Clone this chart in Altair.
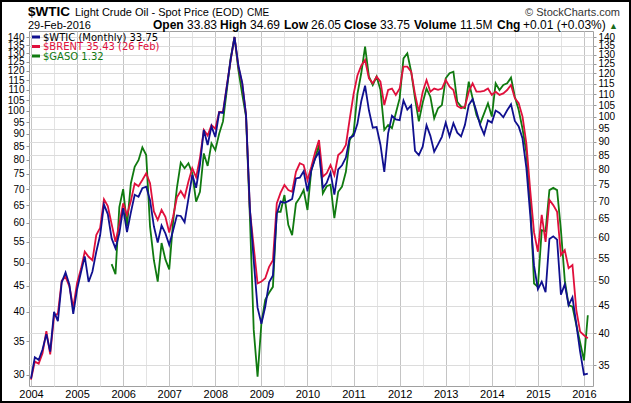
import altair as alt
import pandas as pd

# ---------------- data (monthly, Jan 2004 .. Feb 2016) ----------------
wtic = [
    33.05, 36.16, 35.76, 37.38, 39.88, 37.05, 43.80, 42.12, 49.64, 51.76, 49.13, 43.45,
    48.20, 51.75, 55.40, 49.72, 51.97, 56.50, 60.57, 68.94, 66.24, 59.76, 57.32, 61.04,
    67.92, 61.41, 66.63, 71.88, 71.29, 73.93, 74.40, 70.26, 62.91, 58.73, 63.13, 61.05,
    58.14, 61.79, 65.87, 65.71, 64.01, 70.68, 78.21, 74.04, 81.66, 94.53, 88.71, 95.98,
    91.75, 101.84, 101.58, 113.46, 127.35, 140.00, 124.08, 115.46, 100.64, 67.81, 54.43, 44.60,
    41.68, 44.76, 49.66, 51.12, 66.31, 69.89, 69.45, 69.96, 70.61, 77.00, 77.28, 79.36,
    72.89, 79.66, 83.76, 86.15, 73.97, 75.63, 78.95, 71.92, 79.97, 81.43, 84.11, 91.38,
    92.19, 96.97, 106.72, 113.93, 102.70, 95.42, 95.70, 88.81, 79.20, 93.19, 100.36, 98.83,
    98.48, 107.07, 103.02, 104.87, 86.53, 84.96, 88.06, 96.47, 92.19, 86.24, 88.91, 91.82,
    97.49, 92.05, 97.23, 93.46, 91.97, 96.56, 105.03, 107.65, 102.33, 96.38, 92.72, 98.42,
    97.49, 102.59, 101.58, 99.74, 102.71, 105.37, 98.17, 95.96, 91.16, 80.54, 66.15, 53.27,
    48.24, 49.76, 47.60, 59.63, 60.30, 59.47, 47.12, 49.20, 45.09, 46.59, 41.65, 37.04,
    33.62, 33.75,
]
brent = [
    32.9, 35.5, 35.2, 36.8, 40.4, 36.6, 43.0, 43.5, 50.0, 50.8, 48.8, 44.6,
    49.5, 52.5, 56.5, 55.3, 54.5, 60.6, 62.5, 70.5, 68.5, 63.5, 58.9, 63.5,
    69.3, 66.0, 70.0, 75.4, 74.5, 76.5, 78.7, 75.5, 67.0, 64.6, 67.4, 65.5,
    61.3, 65.5, 71.1, 73.0, 71.1, 76.0, 80.4, 77.4, 84.0, 94.5, 92.3, 96.5,
    95.0, 102.0, 102.0, 114.0, 127.0, 140.0, 123.5, 115.1, 100.7, 67.4, 57.7, 49.4,
    49.8, 50.5, 53.0, 54.5, 69.3, 72.5, 74.9, 73.3, 72.8, 79.2, 82.1, 81.5,
    76.5, 80.9, 86.0, 90.6, 77.6, 78.7, 81.5, 78.1, 85.0, 86.2, 88.7, 99.0,
    110.0, 119.0, 124.0, 127.0, 117.6, 115.1, 118.4, 115.9, 105.0, 111.9, 112.6, 109.6,
    112.6, 123.5, 123.5, 120.9, 110.0, 102.0, 111.0, 116.7, 111.1, 112.6, 112.0, 112.6,
    116.7, 113.5, 111.9, 104.6, 103.6, 104.3, 111.1, 115.1, 111.1, 111.1, 111.5, 112.6,
    109.6, 111.1, 109.6, 110.3, 111.9, 114.3, 108.1, 105.8, 100.0, 89.3, 73.3, 61.3,
    56.5, 66.0, 58.9, 70.3, 68.8, 66.9, 55.7, 56.9, 52.7, 53.4, 44.2, 40.3,
    39.7, 39.2,
]
gaso = [None] * 21 + [
    53.6, 51.4, 68.2,
    73.6, 63.0, 75.4, 80.9, 83.2, 87.8, 85.0, 62.8, 54.5, 49.8, 58.6, 54.7,
    52.4, 64.1, 74.0, 82.3, 80.4, 82.1, 78.7, 69.8, 72.8, 85.6, 81.2, 89.3,
    86.8, 93.0, 98.0, 112.0, 128.0, 140.0, 121.8, 110.0, 100.0, 65.5, 40.6, 33.3,
    41.8, 46.1, 47.5, 48.7, 66.9, 66.9, 71.8, 63.3, 60.6, 69.3, 71.0, 73.3,
    67.4, 79.8, 84.0, 88.7, 72.3, 74.5, 75.0, 65.1, 72.8, 74.4, 79.2, 90.6,
    93.2, 110.0, 120.1, 134.4, 118.4, 114.3, 118.4, 112.0, 94.5, 96.5, 95.2, 101.4,
    108.0, 127.9, 130.7, 120.9, 108.0, 98.0, 106.0, 112.6, 108.8, 99.3, 103.6, 105.0,
    117.6, 120.1, 120.9, 106.5, 104.3, 103.6, 115.9, 108.1, 100.7, 97.2, 101.4, 105.8,
    100.0, 115.1, 111.9, 114.3, 115.1, 117.9, 108.8, 102.8, 95.0, 86.0, 70.0, 49.4,
    48.7, 61.9, 61.6, 73.3, 74.0, 73.3, 61.9, 50.1, 45.1, 44.8, 41.5, 38.5,
    35.7, 43.2,
]
t = [2004 + i / 12 for i in range(len(wtic))]

right_ticks = list(range(35, 145, 5))
left_ticks = list(range(30, 145, 5))
x_ticks = [2004 + k / 2 for k in range(25)]

df = pd.DataFrame({"t": t, "WTIC": wtic, "BRENT": brent, "GASO": gaso})

W, H = 564, 355
FONT = "Liberation Sans"
BLUE, RED, GREEN = "#10108f", "#e0103c", "#107a10"

xenc = alt.X(
    "t:Q",
    scale=alt.Scale(domain=[2003.9566, 2016.196], nice=False, zero=False),
    axis=alt.Axis(
        values=x_ticks,
        labelExpr="abs(datum.value - round(datum.value)) < 0.01 ? format(datum.value, 'd') : ''",
        grid=True,
        gridColor={"condition": {"test": "abs(datum.value - round(datum.value)) < 0.01", "value": "#c4c4c4"}, "value": "#e3e3e3"},
        ticks=False,
        domain=False,
        labelPadding=2,
        labelFont=FONT,
        labelFontSize=11,
        labelColor="#000",
        title=None,
        labelFlush=False,
        labelOverlap=False,
    ),
)

yright_scale = alt.Scale(type="log", domain=[32.03, 143.6], nice=False, zero=False)
yright_axis = alt.Axis(
    orient="right", values=right_ticks, grid=True, gridColor="#dcdcdc",
    tickSize=3, tickColor="#999", labelPadding=2, domain=False,
    labelFont=FONT, labelFontSize=10, labelColor="#000", title=None,
    labelFlush=False, labelOverlap=False, format="d",
)


def series_line(col, color):
    return alt.Chart(df).mark_line(color=color, strokeWidth=1.8, clip=True).encode(
        x=xenc,
        y=alt.Y(f"{col}:Q", scale=yright_scale, axis=yright_axis),
    )


lines = alt.layer(
    series_line("GASO", GREEN),
    series_line("BRENT", RED),
    series_line("WTIC", BLUE),
)

left_axis_layer = alt.Chart(df).mark_line(opacity=0).encode(
    x=xenc,
    y=alt.Y(
        "WTIC:Q",
        scale=alt.Scale(type="log", domain=[28.52, 143.9], nice=False, zero=False),
        axis=alt.Axis(
            orient="left", values=left_ticks, grid=False, tickSize=3, tickColor="#999",
            labelPadding=2, domain=False, labelFont=FONT, labelFontSize=10,
            labelColor="#000", title=None, labelFlush=False, labelOverlap=False, format="d",
        ),
    ),
)

one = pd.DataFrame({"a": [0]})
OX, OY = 29, 31  # plot origin in page pixels


def txt(s, x, y, size=12, weight="normal", color="#000", align="left", font=FONT):
    return alt.Chart(one).mark_text(
        text=s, align=align, baseline="alphabetic", fontSize=size,
        fontWeight=weight, color=color, font=font,
    ).encode(x=alt.value(x - OX), y=alt.value(y - OY))


header = [
    txt("$WTIC", 28, 16, size=13.5, weight="bold"),
    txt("Light Crude Oil - Spot Price (EOD)", 75, 16, size=11),
    txt("CME", 247, 16, size=10),
    txt("\u00a9 StockCharts.com", 620, 16, size=11, color="#333", align="right"),
    txt("29-Feb-2016", 28, 29, size=11),
    txt("Open", 153, 29, weight="bold"),
    txt("33.83", 187, 29),
    txt("High", 220, 29, weight="bold"),
    txt("34.69", 250, 29),
    txt("Low", 284, 29, weight="bold"),
    txt("26.05", 311, 29),
    txt("Close", 344, 29, weight="bold"),
    txt("33.75", 380, 29),
    txt("Volume", 414, 29, weight="bold"),
    txt("11.5M", 460, 29),
    txt("Chg", 497, 29, weight="bold"),
    txt("+0.01 (+0.03%)", 523, 29),
    txt("\u25b2", 609, 29, size=9, color="#1a6a1a"),
]

LEG = "DejaVu Sans"
legend = [
    alt.Chart(one).mark_rule(color=c, strokeWidth=3).encode(
        x=alt.value(32 - OX), x2=alt.value(40 - OX), y=alt.value(yy - OY)
    )
    for c, yy in [(BLUE, 37), (RED, 46.5), (GREEN, 56)]
] + [
    txt("$WTIC (Monthly) 33.75", 43, 40.5, size=10, font=LEG),
    txt("$BRENT 35.43 (26 Feb)", 43, 50, size=10, color=RED, font=LEG),
    txt("$GASO 1.32", 43, 59.5, size=10, color=GREEN, font=LEG),
]

border = alt.Chart(one).mark_rect(filled=False, stroke="#000", strokeWidth=2).encode(
    x=alt.value(-OX + 1), y=alt.value(-OY + 1), x2=alt.value(631 - OX - 1), y2=alt.value(403 - OY - 1)
)

chart = (
    alt.layer(lines, left_axis_layer, *header, *legend, border)
    .resolve_scale(y="independent")
    .properties(
        width=W,
        height=H,
        autosize=alt.AutoSizeParams(type="none"),
        padding={"left": OX, "top": OY, "right": 631 - OX - W, "bottom": 403 - OY - H},
        background="white",
    )
    .configure_view(stroke="#a0a0a0", strokeWidth=1)
)

chart.save("out.html", embed_options={"renderer": "svg", "actions": False})
